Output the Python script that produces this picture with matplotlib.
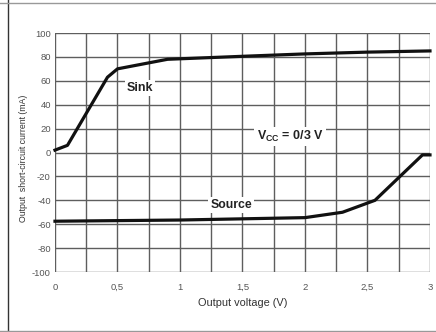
import matplotlib
matplotlib.use("Agg")
import matplotlib.pyplot as plt
from matplotlib.lines import Line2D
from matplotlib.ticker import FuncFormatter

plt.rcParams['font.family'] = ['Liberation Sans', 'DejaVu Sans']
plt.rcParams['mathtext.fontset'] = 'custom'
plt.rcParams['mathtext.rm'] = 'Liberation Sans:bold'
plt.rcParams['mathtext.bf'] = 'Liberation Sans:bold'
plt.rcParams['axes.unicode_minus'] = False

# Sink current vs output voltage
sink_v = [0.0, 0.1, 0.42, 0.5, 0.9, 1.5, 2.0, 2.5, 3.0]
sink_i = [2, 6, 63, 70, 78, 80.5, 82.5, 84, 85]

# Source current vs output voltage
source_v = [0.0, 1.0, 2.0, 2.3, 2.56, 2.94, 3.0]
source_i = [-57.5, -56.5, -54.5, -50, -40, -2, -2]

x_ticks = [0, 0.5, 1, 1.5, 2, 2.5, 3]
y_ticks = list(range(-100, 101, 20))

fig = plt.figure(figsize=(4.36, 3.32), dpi=100)
ax = fig.add_axes([0.1261, 0.1807, 0.8601, 0.7199])

ax.set_xlim(0, 3)
ax.set_ylim(-100, 100)

grid_color = '#5e5e5e'
for gx in [i * 0.25 for i in range(13)]:
    ax.axvline(gx, color=grid_color, lw=1.0, zorder=1)
for gy in range(-100, 101, 20):
    ax.axhline(gy, color=grid_color, lw=1.0, zorder=1)
for s in ax.spines.values():
    s.set_visible(False)

ax.plot(sink_v, sink_i, color='#111111', lw=2.3, zorder=4,
        solid_joinstyle='round', clip_on=False)
ax.plot(source_v, source_i, color='#111111', lw=2.3, zorder=4,
        solid_joinstyle='round', clip_on=False)

ax.set_xticks(x_ticks)
ax.set_yticks(y_ticks)
ax.xaxis.set_major_formatter(FuncFormatter(
    lambda v, p: ('%g' % v).replace('.', ',')))
ax.tick_params(length=0, labelsize=6.8, labelcolor='#555555')
ax.tick_params(axis='x', pad=8)
ax.tick_params(axis='y', pad=3)

ax.set_xlabel('Output voltage (V)', fontsize=7.9, color='#333333')
ax.set_ylabel('Output  short-circuit current (mA)', fontsize=6.3,
              color='#333333')
ax.xaxis.set_label_coords(0.5, -0.108)
ax.yaxis.set_label_coords(-0.072, 0.475)

box = dict(facecolor='white', edgecolor='none', pad=1.5)
ax.text(0.68, 54, 'Sink', fontsize=9.0, fontweight='bold', ha='center',
        va='center', color='#222222', bbox=box, zorder=3)
ax.text(1.41, -44, 'Source', fontsize=8.8, fontweight='bold', ha='center',
        va='center', color='#222222', bbox=box, zorder=3)
ax.text(1.88, 13.5, r'V$_{\mathrm{CC}}$ = 0/3 V', fontsize=9.0,
        fontweight='bold', ha='center', va='center', color='#222222',
        bbox=box, zorder=3)

# page frame lines
fig.add_artist(Line2D([8 / 436, 8 / 436], [0, 1], color='#333333', lw=1.0))
fig.add_artist(Line2D([0, 1], [1 - 2.5 / 332, 1 - 2.5 / 332],
                      color='#999999', lw=1.0))
fig.add_artist(Line2D([0, 1], [1 - 330.5 / 332, 1 - 330.5 / 332],
                      color='#999999', lw=1.0))

fig.savefig('out.png', dpi=100)
